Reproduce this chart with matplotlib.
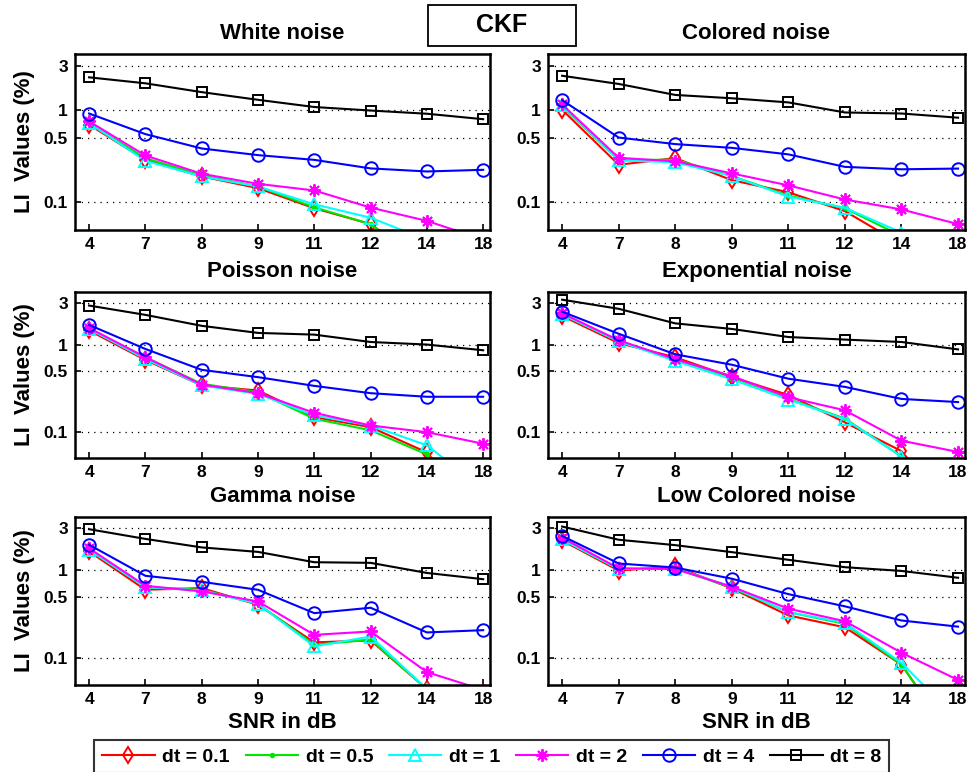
import numpy as np
import matplotlib
matplotlib.use("Agg")
from matplotlib import pyplot as plt
from matplotlib.patches import Rectangle

plt.rcParams['font.family'] = ['Liberation Sans', 'DejaVu Sans']
plt.rcParams['font.weight'] = 'bold'

snr_labels = ['4', '7', '8', '9', '11', '12', '14', '18']
dt_labels = ['dt = 0.1', 'dt = 0.5', 'dt = 1', 'dt = 2', 'dt = 4', 'dt = 8']

# rows: dt = 0.1, 0.5, 1, 2, 4, 8
white = [[0.69, 0.287, 0.19, 0.142, 0.086, 0.058, 0.021, 0.010],
         [0.71, 0.30, 0.195, 0.148, 0.088, 0.058, 0.020, 0.010],
         [0.72, 0.28, 0.19, 0.148, 0.095, 0.068, 0.039, 0.020],
         [0.748, 0.32, 0.203, 0.158, 0.134, 0.0875, 0.0628, 0.0395],
         [0.91, 0.545, 0.381, 0.323, 0.287, 0.232, 0.215, 0.224],
         [2.24, 1.93, 1.55, 1.28, 1.07, 0.98, 0.905, 0.79]]

colored = [[1.0, 0.254, 0.30, 0.173, 0.128, 0.080, 0.035, 0.015],
           [1.09, 0.284, 0.289, 0.192, 0.118, 0.086, 0.043, 0.020],
           [1.12, 0.284, 0.27, 0.192, 0.115, 0.087, 0.047, 0.020],
           [1.14, 0.302, 0.277, 0.205, 0.152, 0.107, 0.0835, 0.058],
           [1.27, 0.50, 0.425, 0.387, 0.329, 0.241, 0.227, 0.231],
           [2.33, 1.90, 1.445, 1.33, 1.20, 0.934, 0.91, 0.82]]

poisson = [[1.45, 0.667, 0.34, 0.297, 0.147, 0.113, 0.058, 0.010],
           [1.51, 0.716, 0.355, 0.284, 0.141, 0.104, 0.055, 0.010],
           [1.51, 0.685, 0.34, 0.272, 0.154, 0.118, 0.070, 0.022],
           [1.55, 0.716, 0.348, 0.277, 0.165, 0.118, 0.099, 0.073],
           [1.68, 0.89, 0.513, 0.423, 0.336, 0.277, 0.252, 0.252],
           [2.80, 2.19, 1.64, 1.36, 1.30, 1.07, 1.00, 0.86]]

exponential = [[2.13, 1.04, 0.715, 0.424, 0.264, 0.128, 0.060, 0.010],
               [2.22, 1.09, 0.668, 0.406, 0.238, 0.142, 0.052, 0.010],
               [2.22, 1.09, 0.65, 0.399, 0.234, 0.140, 0.052, 0.012],
               [2.28, 1.12, 0.679, 0.435, 0.249, 0.176, 0.079, 0.0587],
               [2.38, 1.33, 0.773, 0.587, 0.406, 0.327, 0.238, 0.219],
               [3.27, 2.57, 1.75, 1.51, 1.22, 1.14, 1.07, 0.88]]

gamma = [[1.63, 0.60, 0.626, 0.405, 0.152, 0.160, 0.045, 0.020],
         [1.70, 0.642, 0.60, 0.416, 0.143, 0.163, 0.045, 0.020],
         [1.70, 0.642, 0.589, 0.416, 0.137, 0.177, 0.045, 0.020],
         [1.77, 0.665, 0.574, 0.442, 0.185, 0.202, 0.070, 0.044],
         [1.94, 0.863, 0.738, 0.599, 0.326, 0.375, 0.197, 0.209],
         [2.91, 2.26, 1.81, 1.61, 1.23, 1.21, 0.93, 0.79]]

low_colored = [[2.17, 0.99, 1.10, 0.621, 0.307, 0.225, 0.085, 0.010],
               [2.23, 1.03, 1.05, 0.632, 0.335, 0.246, 0.085, 0.010],
               [2.23, 1.03, 1.04, 0.649, 0.335, 0.253, 0.089, 0.020],
               [2.33, 1.05, 1.03, 0.649, 0.366, 0.264, 0.116, 0.057],
               [2.44, 1.19, 1.07, 0.80, 0.535, 0.389, 0.269, 0.229],
               [3.12, 2.21, 1.92, 1.60, 1.31, 1.08, 0.98, 0.82]]

panels = [('White noise', white), ('Colored noise', colored),
          ('Poisson noise', poisson), ('Exponential noise', exponential),
          ('Gamma noise', gamma), ('Low Colored noise', low_colored)]

colors = ['red', '#00e600', 'cyan', 'magenta', 'blue', 'black']
markers = ['d', '.', '^', (8, 2, 0), 'o', 's']
msizes = [8, 5, 9, 9, 9, 7]

# axes boxes in figure fractions [left, bottom, width, height]
col_x = [0.077, 0.5626]
col_w = [0.426, 0.428]
row_y = [0.702, 0.4067, 0.1127]
row_h = [0.228, 0.215, 0.2176]

fig = plt.figure(figsize=(9.74, 7.72), dpi=100)
x = np.arange(1, len(snr_labels) + 1)

for k, (title, data) in enumerate(panels):
    r, c = divmod(k, 2)
    ax = fig.add_axes([col_x[c], row_y[r], col_w[c], row_h[r]])
    for i in range(6):
        mfc = colors[i] if markers[i] == '.' else 'none'
        ax.semilogy(x, data[i], color=colors[i], lw=1.5, marker=markers[i],
                    ms=msizes[i], mfc=mfc, mec=colors[i], mew=1.4,
                    label=dt_labels[i])
    ax.set_ylim(0.05, 4)
    ax.set_xlim(0.75, 8.12)
    ax.set_yticks([0.1, 0.5, 1, 3])
    ax.set_yticklabels(['0.1', '0.5', '1', '3'])
    ax.minorticks_off()
    ax.set_xticks(x)
    ax.set_xticklabels(snr_labels)
    ax.tick_params(direction='in', labelsize=12.5, width=1.2, length=4, pad=5)
    for lab in ax.get_xticklabels() + ax.get_yticklabels():
        lab.set_fontweight('bold')
    ax.yaxis.grid(True, ls=(0, (1, 4)), color='black', lw=0.9)
    for sp in ax.spines.values():
        sp.set_linewidth(1.8)
    ax.set_title(title, fontsize=16, fontweight='bold', pad=11)
    if c == 0:
        ax.set_ylabel('LI  Values (%)', fontsize=16, fontweight='bold', labelpad=6)
    if r == 2:
        ax.set_xlabel('SNR in dB', fontsize=16, fontweight='bold', labelpad=4)
    if k == 0:
        handles, labels = ax.get_legend_handles_labels()

leg = fig.legend(handles, labels, loc='lower center', ncol=6,
                 bbox_to_anchor=(0.505, -0.012), fancybox=False,
                 edgecolor='black', prop={'size': 14, 'weight': 'bold'},
                 handlelength=2.7, columnspacing=0.8, handletextpad=0.4,
                 borderpad=0.4, borderaxespad=0.4)
leg.get_frame().set_linewidth(1.5)

# title box at the top
fig.patches.append(Rectangle((428 / 974, 1 - 46 / 772), 148 / 974, 41 / 772,
                             transform=fig.transFigure, fc='white', ec='black',
                             lw=1.3, figure=fig))
fig.text(502 / 974, 1 - 25 / 772, 'CKF', ha='center', va='center',
         fontsize=18, fontweight='bold')

fig.savefig('out.png', dpi=100, facecolor='white')
